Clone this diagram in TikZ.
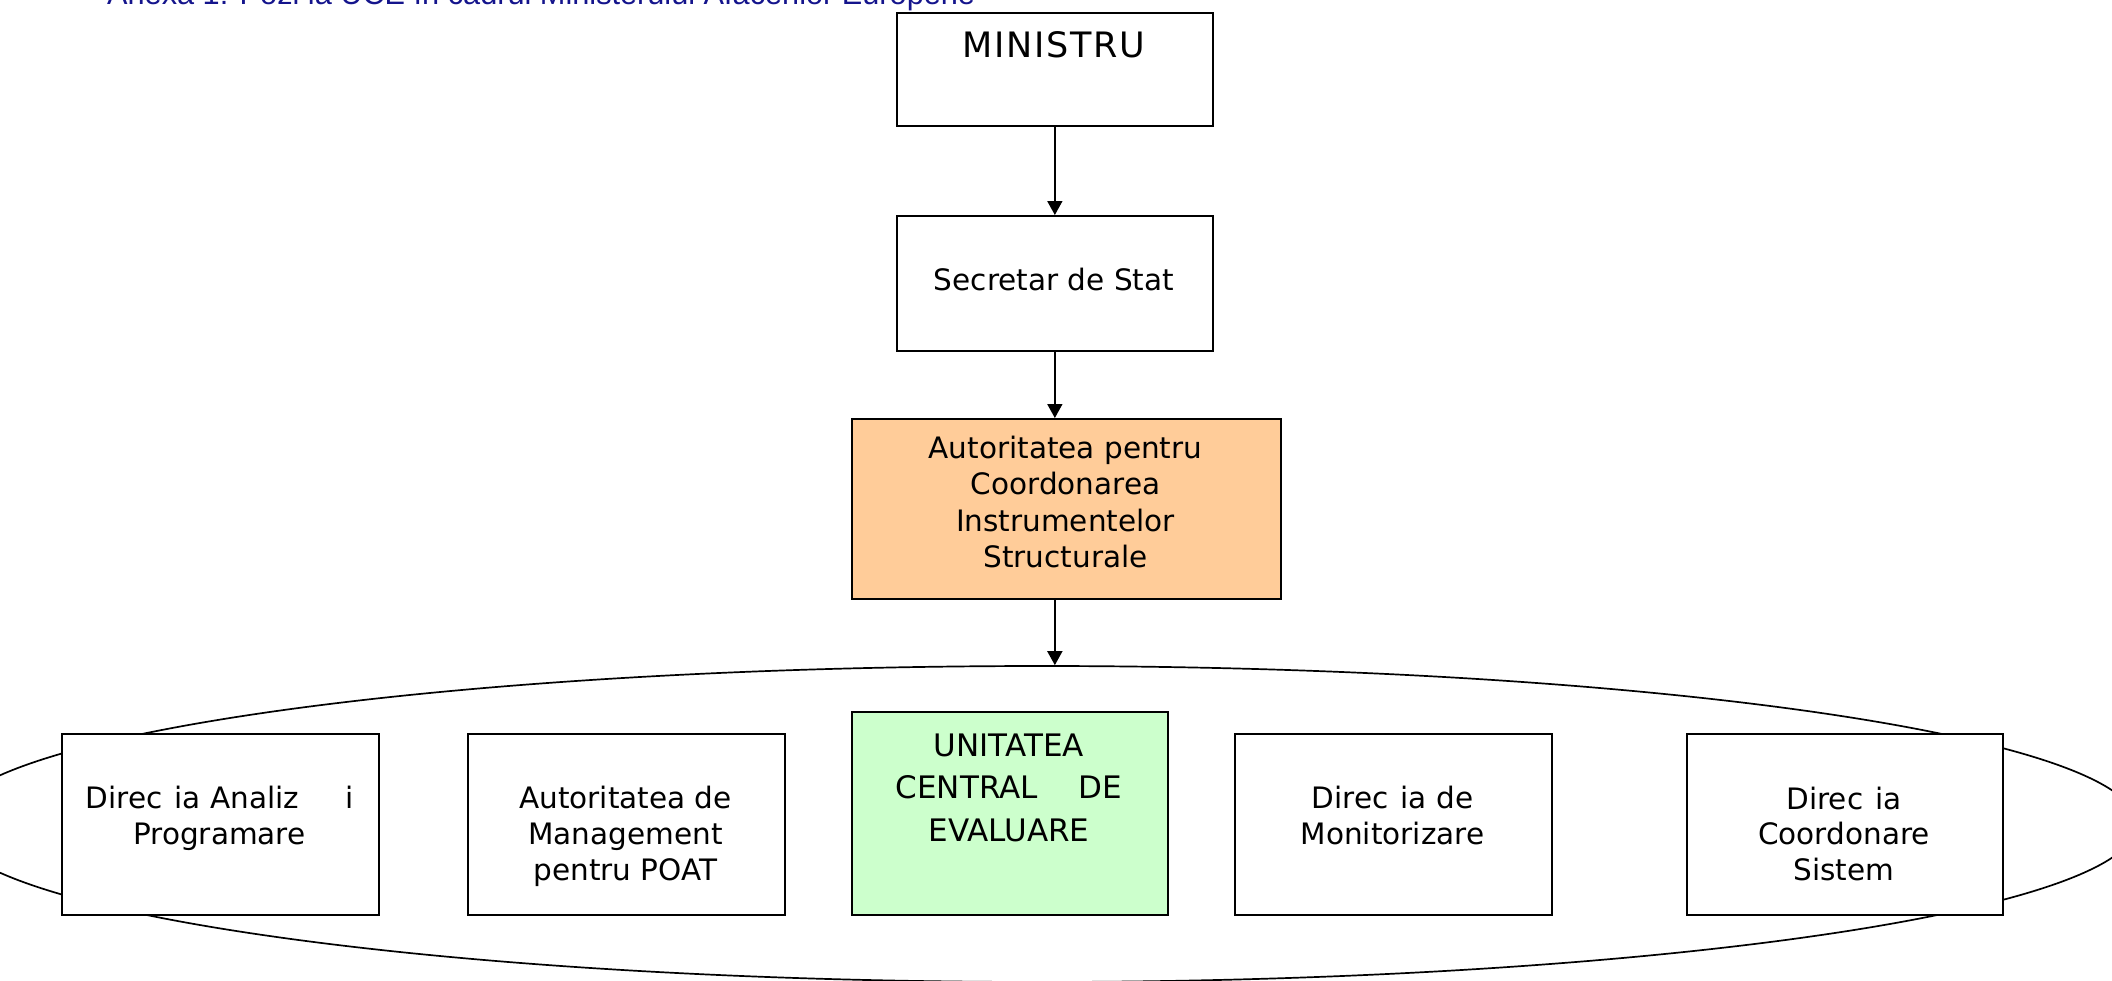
\documentclass[tikz,border=0pt]{standalone}
\usepackage{fontspec}
\setmainfont{DejaVu Sans}
\newfontfamily\titlefont{Liberation Sans}
\usetikzlibrary{shapes.geometric,arrows.meta}
\definecolor{acisfill}{RGB}{255,204,153}
\definecolor{ucefill}{RGB}{204,255,204}
\definecolor{titleblue}{RGB}{20,20,140}
\begin{document}
\begin{tikzpicture}[x=1pt,y=-1pt,
  box/.style={draw=black, line width=1.7pt, fill=white, rectangle, inner sep=0pt, anchor=north west},
  txt/.style={anchor=base, inner sep=0pt, font=\fontsize{29.5}{36}\selectfont},
  bigtxt/.style={anchor=base, inner sep=0pt, font=\fontsize{31}{38}\selectfont},
  arr/.style={line width=1.7pt, -{Triangle[length=14pt,width=15pt]}},
]
\clip (0,0) rectangle (2112,980);
% title
\node[anchor=base west, inner sep=0pt, font=\titlefont\fontsize{30.7}{36}\selectfont, text=titleblue] (title) at (107,4) {Anexa 1: Pozi ia UCE în cadrul Ministerului Afacerilor Europene};
% ellipse
\node[ellipse, draw=black, line width=1.7pt, minimum width=2190pt, minimum height=316pt, inner sep=0pt] (ell) at (1042,824) {};
% boxes
\node[box, minimum width=316pt, minimum height=113pt] (ministru) at (896,12) {};
\node[box, minimum width=316pt, minimum height=135pt] (secretar) at (896,215) {};
\node[box, fill=acisfill, minimum width=429pt, minimum height=180pt] (acis) at (851,418) {};
\node[box, minimum width=317pt, minimum height=181pt] (dap) at (61,733) {};
\node[box, minimum width=317pt, minimum height=181pt] (amp) at (467,733) {};
\node[box, fill=ucefill, minimum width=316pt, minimum height=203pt] (uce) at (851,711) {};
\node[box, minimum width=317pt, minimum height=181pt] (dm) at (1234,733) {};
\node[box, minimum width=316pt, minimum height=181pt] (dcs) at (1686,733) {};
% texts
\node[anchor=base, inner sep=0pt, font=\fontsize{35}{40}\selectfont\addfontfeatures{LetterSpace=5}] (tmin) at (1054,57) {MINISTRU};
\node[txt] (tsec) at (1054,290) {Secretar de Stat};
\node[txt] (tacis1) at (1065.5,458) {Autoritatea pentru};
\node[txt] (tacis2) at (1065.5,494) {Coordonarea};
\node[txt] (tacis3) at (1065.5,531) {Instrumentelor};
\node[txt] (tacis4) at (1065.5,567) {Structurale};
\node[txt] (tdap1) at (219.5,808) {Direc\hspace{12pt}ia Analiz\hspace{46pt}i};
\node[txt] (tdap2) at (219.5,844) {Programare};
\node[txt] (tamp1) at (625.5,808) {Autoritatea de};
\node[txt] (tamp2) at (625.5,844) {Management};
\node[txt] (tamp3) at (625.5,880) {pentru POAT};
\node[bigtxt] (tuce1) at (1009,756) {UNITATEA};
\node[bigtxt] (tuce2) at (1009,798) {CENTRAL\hspace{41pt}DE};
\node[bigtxt] (tuce3) at (1009,841) {EVALUARE};
\node[txt] (tdm1) at (1392.5,808) {Direc\hspace{12pt}ia de};
\node[txt] (tdm2) at (1392.5,844) {Monitorizare};
\node[txt] (tdcs1) at (1844,809) {Direc\hspace{12pt}ia};
\node[txt] (tdcs2) at (1844,844) {Coordonare};
\node[txt] (tdcs3) at (1844,880) {Sistem};
% arrows
\draw[arr] (ministru.south) -- (secretar.north);
\draw[arr] (secretar.south) -- (secretar.south |- acis.north);
\draw[arr] (secretar.south |- acis.south) -- (secretar.south |- ell.north);
\end{tikzpicture}
\end{document}
